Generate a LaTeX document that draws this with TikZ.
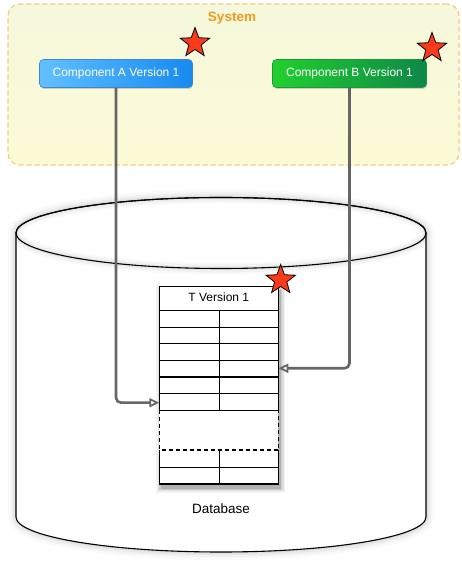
\documentclass[tikz,border=0pt]{standalone}
\usepackage{fontspec}
\setmainfont{Liberation Sans}
\usetikzlibrary{shapes.geometric,arrows.meta,shadows}
\definecolor{systop}{HTML}{F5F8DC}
\definecolor{sysbot}{HTML}{FDFBD6}
\definecolor{sysborder}{HTML}{F7CB7E}
\definecolor{syslabel}{HTML}{F39A1E}
\definecolor{aleft}{HTML}{62C0FF}
\definecolor{aright}{HTML}{168AF0}
\definecolor{aborder}{HTML}{3C86D6}
\definecolor{bleft}{HTML}{22D02E}
\definecolor{bright}{HTML}{0E8748}
\definecolor{bborder}{HTML}{1A9A3A}
\definecolor{starred}{HTML}{FA3A18}
\definecolor{arrgray}{HTML}{666666}
\tikzset{
  sysbox/.style={rectangle, rounded corners=12pt, draw=sysborder, dash pattern=on 5pt off 3pt, line width=1.2pt, top color=systop, bottom color=sysbot, inner sep=0},
  comp/.style={rectangle, rounded corners=4pt, minimum height=28pt, inner sep=0, text=white, font=\fontsize{12}{14}\selectfont, line width=0.6pt, drop shadow={shadow xshift=0.5pt, shadow yshift=-1.5pt, opacity=0.35}},
  starmark/.style={star, star points=5, star point ratio=2.4, minimum size=31pt, inner sep=0, fill=starred, draw=black, line width=0.8pt},
  arr/.style={draw=arrgray, line width=2.6pt, rounded corners=5pt, -{Triangle[open, length=10pt, width=9pt, line width=1.8pt]}},
  tline/.style={line width=1.2pt, black},
}
\def\cylpath{(16,339) -- (16,55) arc[start angle=180, end angle=360, x radius=205, y radius=35] -- (426,339) arc[start angle=0, end angle=180, x radius=205, y radius=35.5] -- cycle}
\begin{document}
\begin{tikzpicture}[x=1pt,y=1pt]
\useasboundingbox (0,0) rectangle (461,572);
\fill[white] (0,0) rectangle (461,572);
% system
\node[sysbox, minimum width=451pt, minimum height=161pt] (sys) at (233.5,487.5) {};
\node[font=\bfseries\fontsize{13.5}{16}\selectfont, text=syslabel] (syslbl) at (232,554) {System};
% cylinder
\foreach \w/\o in {16/0.02, 11/0.03, 7/0.035, 3.5/0.045} \draw[line width=\w pt, black, opacity=\o, line join=round] \cylpath;
\fill[white] \cylpath;
\begin{scope}
\clip \cylpath;
\foreach \w/\o in {12/0.02, 8/0.03, 4/0.04} \draw[line width=\w pt, black, opacity=\o] (221,339) ellipse [x radius=205, y radius=35.5];
\end{scope}
\draw[line width=1.1pt] \cylpath;
\draw[line width=1.1pt] (221,339) ellipse [x radius=205, y radius=35.5];
\node[font=\fontsize{13.5}{16}\selectfont] (db) at (221,63) {Database};
% table shadow
\foreach \s/\o in {5/0.05, 3.5/0.07, 2/0.09, 0.8/0.12} \fill[black, opacity=\o] (161.3-\s,84-\s) rectangle (280.3+\s,281.3+\s);
\node[fill=white, minimum width=119pt, minimum height=197.3pt, inner sep=0] (tbl) at (218.8,186.65) {};
\node[font=\fontsize{12}{14}\selectfont] (tname) at (218.8,274.3) {T Version 1};
% table lines
\draw[tline] (159.3,161.7) -- (159.3,285.3) -- (278.3,285.3) -- (278.3,161.7);
\foreach \yy in {261.3, 244.7, 228.3, 211.7, 195, 178.3, 161.7} \draw[tline] (159.3,\yy) -- (278.3,\yy);
\draw[tline] (219.3,261.3) -- (219.3,161.7);
\draw[tline, dash pattern=on 4pt off 3pt] (159.3,161.7) -- (159.3,122) -- (278.3,122) -- (278.3,161.7);
\draw[tline] (159.3,122) -- (159.3,88) -- (278.3,88) -- (278.3,122);
\draw[tline] (159.3,104.7) -- (278.3,104.7);
\draw[tline] (219.3,122) -- (219.3,88);
% components
\node[comp, minimum width=153pt, left color=aleft, right color=aright, draw=aborder] (ca) at (116,498.5) {Component A Version 1};
\node[comp, minimum width=154pt, left color=bleft, right color=bright, draw=bborder] (cb) at (349.5,498.5) {Component B Version 1};
% stars
\node[starmark] (sa) at (195,529) {};
\node[starmark] (sb) at (432,524) {};
\node[starmark] (st) at (280.7,292) {};
% connectors
\coordinate (ain) at (159.3,169.3);
\coordinate (bin) at (278.3,203.7);
\draw[arr] (ca.south) |- (ain);
\draw[arr] (cb.south) |- (bin);
\end{tikzpicture}
\end{document}
